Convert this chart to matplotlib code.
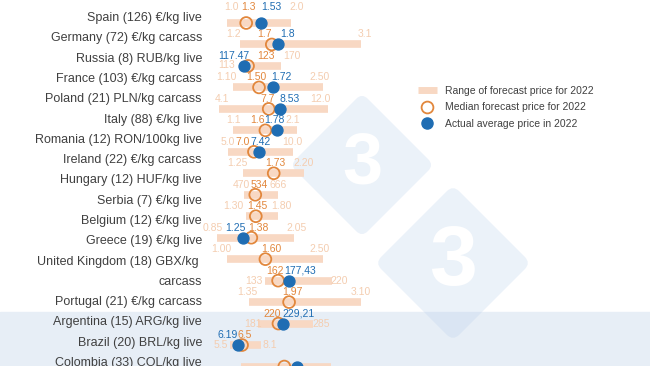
import matplotlib
matplotlib.use("Agg")
import matplotlib.pyplot as plt
import matplotlib.transforms as mtransforms
from matplotlib.patches import FancyBboxPatch, Rectangle
from matplotlib.lines import Line2D
import numpy as np

plt.rcParams['font.family'] = ['Liberation Sans', 'DejaVu Sans']

# ---- data (as printed on the chart) ----
countries = [
    "Spain (126) €/kg live",
    "Germany (72) €/kg carcass",
    "Russia (8) RUB/kg live",
    "France (103) €/kg carcass",
    "Poland (21) PLN/kg carcass",
    "Italy (88) €/kg live",
    "Romania (12) RON/100kg live",
    "Ireland (22) €/kg carcass",
    "Hungary (12) HUF/kg live",
    "Serbia (7) €/kg live",
    "Belgium (12) €/kg live",
    "Greece (19) €/kg live",
    "United Kingdom (18) GBX/kg \ncarcass",
    "Portugal (21) €/kg carcass",
    "Argentina (15) ARG/kg live",
    "Brazil (20) BRL/kg live",
    "Colombia (33) COL/kg live",
]
low_lbl = ["1.0", "1.2", "113", "1.10", "4.1", "1.1", "5.0", "1.25", "470", "1.30",
           "0.85", "1.00", "133", "1.35", "181", "5.5", "5000"]
med_lbl = ["1.3", "1.7", "123", "1.50", "7.7", "1.6", "7.0", "1.73", "534", "1.45",
           "1.38", "1.60", "162", "1.97", "220", "6.5", "7800"]
act_lbl = ["1.53", "1.8", "117.47", "1.72", "8.53", "1.78", "7.42", "", "", "",
           "1.25", "", "177,43", "", "229,21", "6.19", "8646.73"]
high_lbl = ["2.0", "3.1", "170", "2.50", "12.0", "2.1", "10.0", "2.20", "666", "1.80",
            "2.05", "2.50", "220", "3.10", "285", "8.1", "10800"]
# local currency -> EUR, so all rows share one axis
eur_rate = np.array([1, 1, 0.0108, 1, 0.2145, 1, 0.203, 1, 0.0027, 1,
                     1, 1, 0.0111, 1, 0.0082, 0.19, 0.000243])
# the UK range bar sits at a slightly different rate than its dots in the source
bar_rate = eur_rate.copy()
bar_rate[12] = 0.0120


def num(s):
    return float(s.replace(',', '.')) if s else np.nan


low = np.array([num(s) for s in low_lbl])
med = np.array([num(s) for s in med_lbl])
act = np.array([num(s) for s in act_lbl])
high = np.array([num(s) for s in high_lbl])
rows = np.arange(len(countries))

# ---- label nudges (pixels, relative to the point) ----
dx_low = [4, -6, -15, -7, 3, 0, 0, -6, -3, -13, -5, -6, -11, -2, -5, -9, -12]
dx_med = [2, -7, 18, -3, -1, -8, -11, 2, 4, 2, 7, 6, -3, 3, -6, 3, -12]
dx_act = [10, 9, -10, 8, 10, -3, 1, 0, 0, 0, -8, 0, 11, 0, 15, -11, 10]
dx_high = [6, 4, 11, -3, -7, -5, -1, 0, 0, 3, 2, -3, 7, -1, 9, 8, 12]
dy = [16] + [10] * 16
dy_low = list(dy)
dy_high = list(dy)
dy_low[2] = 1
for i in (12, 14, 15):
    dy_low[i] = 0
    dy_high[i] = 0

BAR = '#f8d8c3'
ORANGE = '#e2873c'
BLUE = '#1f6db3'
FAINT = '#f4cdb0'
TXT = '#404040'
VFS = 7.5

W, H = 650, 366
fig = plt.figure(figsize=(W / 100, H / 100), dpi=100)
fig.patch.set_facecolor('white')

# background: light band and watermark diamonds
fig.add_artist(Rectangle((0, 0), 1, 54 / H, transform=fig.transFigure,
                         color='#e7eef6', zorder=-3))


def diamond(cx, cy, r, fs):
    side = r * np.sqrt(2)
    tr = (mtransforms.Affine2D().rotate_deg(45).translate(cx, H - cy)
          .scale(1 / W, 1 / H) + fig.transFigure)
    p = FancyBboxPatch((-side / 2, -side / 2), side, side,
                       boxstyle="round,pad=0,rounding_size=%f" % (side * 0.08),
                       transform=tr, facecolor=(0.72, 0.81, 0.92), alpha=0.27,
                       edgecolor='none', zorder=-2)
    fig.add_artist(p)
    fig.text(cx / W, 1 - cy / H, "3", fontsize=fs, weight='bold', color='white',
             ha='center', va='center', zorder=-1)


diamond(362, 165, 72, 52)
diamond(453, 263, 78, 62)

ax = fig.add_axes([0, 0, 1, 1])
ax.set_xlim(-163 / 64, (W - 163) / 64)
ax.set_ylim((H - 23) / 21.47, -23 / 21.47)
ax.axis('off')

ax.hlines(rows, low * bar_rate, high * bar_rate, color=BAR, lw=5.5, capstyle='butt', zorder=2)
ax.scatter(med * eur_rate, rows, s=72, facecolors='none', edgecolors=ORANGE,
           linewidths=1.3, zorder=3)
ax.scatter(act * eur_rate, rows, s=62, color=BLUE, zorder=4)

for i in rows:
    ax.annotate(low_lbl[i], (low[i] * bar_rate[i], i), xytext=(dx_low[i], dy_low[i]),
                textcoords='offset pixels', ha='center', va='center', fontsize=VFS, color=FAINT)
    ax.annotate(high_lbl[i], (high[i] * bar_rate[i], i), xytext=(dx_high[i], dy_high[i]),
                textcoords='offset pixels', ha='center', va='center', fontsize=VFS, color=FAINT)
    ax.annotate(med_lbl[i], (med[i] * eur_rate[i], i), xytext=(dx_med[i], dy[i]),
                textcoords='offset pixels', ha='center', va='center', fontsize=VFS, color=ORANGE)
    if act_lbl[i]:
        ax.annotate(act_lbl[i], (act[i] * eur_rate[i], i), xytext=(dx_act[i], dy[i]),
                    textcoords='offset pixels', ha='center', va='center', fontsize=VFS, color=BLUE)

# country labels, one text line every ~20 px
lines = [ln for c in countries for ln in c.split('\n')]
for k, ln in enumerate(lines):
    fig.text(202 / W, 1 - (18 + 20.3 * k) / H, ln, ha='right', va='center',
             fontsize=9, color=TXT)

handles = [
    Line2D([], [], color=BAR, lw=5, solid_capstyle='butt'),
    Line2D([], [], ls='none', marker='o', markersize=8.5, markerfacecolor='none',
           markeredgecolor=ORANGE, markeredgewidth=1.3),
    Line2D([], [], ls='none', marker='o', markersize=8, color=BLUE),
]
leg = fig.legend(handles, ["Range of forecast price for 2022",
                           "Median forecast price for 2022",
                           "Actual average price in 2022"],
                 loc='upper left', bbox_to_anchor=(418 / W, 1 - 86 / H),
                 frameon=False, fontsize=7.5, handlelength=1.8, handletextpad=0.8,
                 borderpad=0, borderaxespad=0, labelspacing=0.62)
for t in leg.get_texts():
    t.set_color(TXT)

fig.savefig('out.png', dpi=100)
